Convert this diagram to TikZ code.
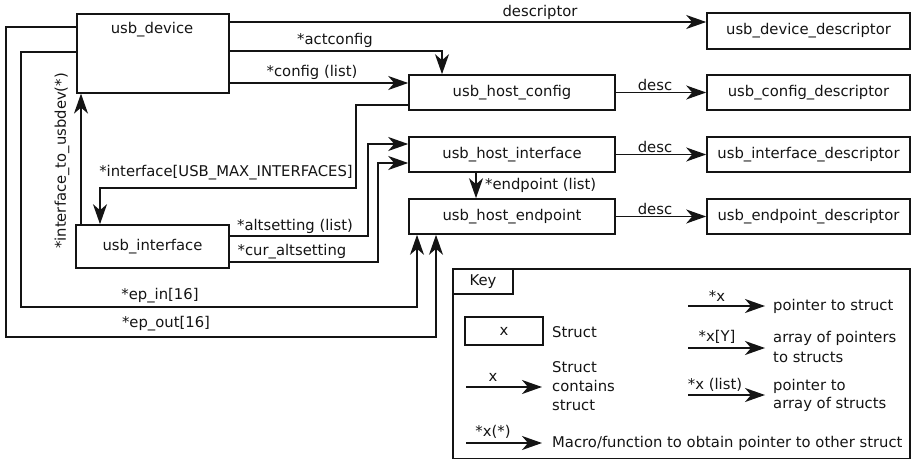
\documentclass[tikz,border=0pt]{standalone}
\usepackage{fontspec}
\setmainfont{DejaVu Sans}
\usetikzlibrary{arrows.meta,calc}
\definecolor{ink}{RGB}{20,20,20}
\tikzset{
  box/.style={draw=ink, line width=1.6pt, rectangle, inner sep=0pt, font=\fontsize{14.8}{17}\selectfont, text=ink},
  lbl/.style={inner sep=0pt, font=\fontsize{14.8}{17}\selectfont, text=ink},
  arr/.style={draw=ink, line width=1.6pt, -{Stealth[length=20pt,width=14pt,inset=6pt]}},
  wire/.style={draw=ink, line width=1.6pt}
}
\begin{document}
\begin{tikzpicture}[x=1pt,y=-1pt]
\useasboundingbox (0,0) rectangle (912,460);
% structs
\node[box, minimum width=152pt, minimum height=79pt, anchor=north west] (dev) at (76,13) {};
\node[lbl] (devt) at (152,30) {usb\_device};
\node[box, minimum width=203pt, minimum height=36pt] (ddesc) at (808.5,31) {usb\_device\_descriptor};
\node[box, minimum width=206pt, minimum height=35pt] (hcfg) at (512,92.5) {usb\_host\_config};
\node[box, minimum width=203pt, minimum height=35pt] (cdesc) at (808.5,92.5) {usb\_config\_descriptor};
\node[box, minimum width=206pt, minimum height=35pt] (hif) at (512,154.5) {usb\_host\_interface};
\node[box, minimum width=203pt, minimum height=35pt] (idesc) at (808.5,154.5) {usb\_interface\_descriptor};
\node[box, minimum width=206pt, minimum height=35pt] (hep) at (512,216.5) {usb\_host\_endpoint};
\node[box, minimum width=203pt, minimum height=35pt] (edesc) at (808.5,216.5) {usb\_endpoint\_descriptor};
\node[box, minimum width=153pt, minimum height=43pt] (iface) at (152.5,246.5) {usb\_interface};

% connectors
\draw[arr] (dev.east |- 0,22) -- (ddesc.west |- 0,22);
\node[lbl] (ldescriptor) at (540,12) {descriptor};
\draw[arr] (dev.east |- 0,51) -| (hcfg.north -| 442,0);
\node[lbl] (lact) at (335,40) {*actconfig};
\draw[arr] (dev.east |- 0,83) -- (hcfg.west |- 0,83);
\node[lbl] (lcfg) at (312,72) {*config (list)};
\draw[arr] (hcfg.west |- 0,105) -| (356,188) -| (iface.north -| 100,0);
\node[lbl] (liface) at (226,173) {*interface[USB\_MAX\_INTERFACES]};
\draw[arr] (iface.north -| 81,0) -- (dev.south -| 81,0);
\node[lbl, rotate=90] (lto) at (62,161) {*interface\_to\_usbdev(*)};
\draw[arr] (iface.east |- 0,236) -| (368,144) -- (hif.west |- 0,144);
\node[lbl] (lalt) at (295,226) {*altsetting (list)};
\draw[arr] (iface.east |- 0,262) -| (378,163) -- (hif.west |- 0,163);
\node[lbl] (lcur) at (292,252) {*cur\_altsetting};
\draw[arr] (dev.west |- 0,52) -| (21,307) -| (hep.south -| 417,0);
\node[lbl] (lin) at (160,296) {*ep\_in[16]};
\draw[arr] (dev.west |- 0,27) -| (6,337) -| (hep.south -| 436,0);
\node[lbl] (lout) at (166,324) {*ep\_out[16]};
\draw[arr] (hcfg.east) -- (cdesc.west);
\node[lbl] (ld1) at (655,85) {desc};
\draw[arr] (hif.east) -- (idesc.west);
\node[lbl] (ld2) at (655,147) {desc};
\draw[arr] (hep.east) -- (edesc.west);
\node[lbl] (ld3) at (655,209) {desc};
\draw[arr] (hif.south -| 476,0) -- (hep.north -| 476,0);
\node[lbl, anchor=west] (lep) at (485,185) {*endpoint (list)};

% key
\draw[wire] (453,269) rectangle (910,458.5);
\draw[wire] (453,269) rectangle (513,294);
\node[lbl] (keyt) at (483,282) {Key};
\node[box, minimum width=78pt, minimum height=28pt] (kstruct) at (504,331) {x};
\node[lbl, anchor=west] (kstructt) at (552,332) {Struct};
\coordinate (ka1) at (466,387); \coordinate (kb1) at (542,387);
\draw[arr] (ka1) -- (kb1);
\node[lbl] (kx) at (493,377) {x};
\node[lbl, anchor=west, align=left, font=\fontsize{14.8}{19}\selectfont] (kcont) at (552,386) {Struct\\contains\\struct};
\coordinate (ka2) at (466,443); \coordinate (kb2) at (542,443);
\draw[arr] (ka2) -- (kb2);
\node[lbl] (kxs) at (493,432) {*x(*)};
\node[lbl, anchor=west] (kmacro) at (552,443) {Macro/function to obtain pointer to other struct};
\coordinate (ka3) at (688,306); \coordinate (kb3) at (765,306);
\draw[arr] (ka3) -- (kb3);
\node[lbl] (kp) at (717,296) {*x};
\node[lbl, anchor=west] (kpt) at (773,306) {pointer to struct};
\coordinate (ka4) at (688,348); \coordinate (kb4) at (765,348);
\draw[arr] (ka4) -- (kb4);
\node[lbl] (kpy) at (717,337) {*x[Y]};
\node[lbl, anchor=west, align=left, font=\fontsize{14.8}{20}\selectfont] (kpyt) at (773,347) {array of pointers\\to structs};
\coordinate (ka5) at (688,395); \coordinate (kb5) at (765,395);
\draw[arr] (ka5) -- (kb5);
\node[lbl] (kpl) at (715,385) {*x (list)};
\node[lbl, anchor=west, align=left, font=\fontsize{14.8}{18}\selectfont] (kplt) at (773,395) {pointer to\\array of structs};
\end{tikzpicture}
\end{document}
